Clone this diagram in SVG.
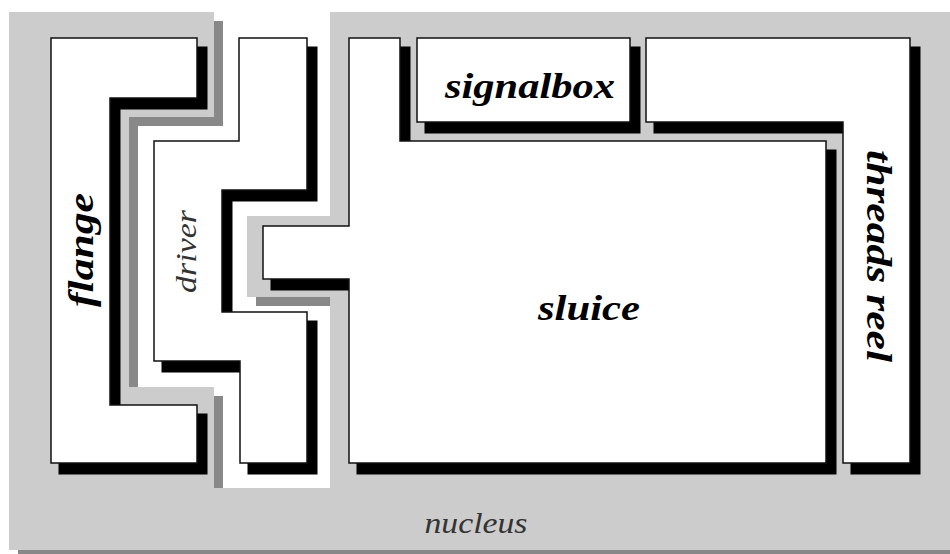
<svg xmlns="http://www.w3.org/2000/svg" width="950" height="554" viewBox="0 0 950 554">
<style>
.shape{fill:#fff;stroke:#111;stroke-width:1.5}
.shadow{fill:#000;stroke:#000;stroke-width:3}
.lbl{font-family:"Liberation Serif","Times New Roman",serif;font-style:italic;font-weight:bold;font-size:36px;fill:#000}
.lbl2{font-family:"Liberation Serif","Times New Roman",serif;font-style:italic;font-weight:normal;font-size:29px;fill:#333}
</style>
<rect width="950" height="554" fill="#fff"/>
<g id="nucleus">
<path d="M9,12 H214 V117 H129 V387 H214 V488 H330 V297 H247 V216 H330 V12 H960 V550 H9 Z" fill="#888" transform="translate(9,9)"/>
<path d="M9,12 H214 V117 H129 V387 H214 V488 H330 V297 H247 V216 H330 V12 H960 V550 H9 Z" fill="#ccc"/>
<text class="lbl2" x="476" y="533" text-anchor="middle" textLength="103" lengthAdjust="spacingAndGlyphs">nucleus</text>
</g>
<g id="flange">
<polygon class="shadow" points="51,38 197,38 197,98 110,98 110,405 197,405 197,463 51,463" transform="translate(9,10)"/>
<polygon class="shape" points="51,38 197,38 197,98 110,98 110,405 197,405 197,463 51,463"/>
<text class="lbl" transform="translate(93,250) rotate(-90)" text-anchor="middle" textLength="114" lengthAdjust="spacingAndGlyphs">flange</text>
</g>
<g id="driver">
<polygon class="shadow" points="239,38 307,38 307,190 222,190 222,312 307,312 307,463 240,463 240,361 154,361 154,141 239,141" transform="translate(9,10)"/>
<polygon class="shape" points="239,38 307,38 307,190 222,190 222,312 307,312 307,463 240,463 240,361 154,361 154,141 239,141"/>
<text class="lbl2" transform="translate(196,251.5) rotate(-90)" text-anchor="middle" font-size="33" fill="#444" textLength="83" lengthAdjust="spacingAndGlyphs">driver</text>
</g>
<g id="sluice">
<polygon class="shadow" points="349,38 400,38 400,141 826,141 826,463 349,463 349,279 263,279 263,226 349,226" transform="translate(9,10)"/>
<polygon class="shape" points="349,38 400,38 400,141 826,141 826,463 349,463 349,279 263,279 263,226 349,226"/>
<text class="lbl" x="589" y="320" text-anchor="middle" textLength="102" lengthAdjust="spacingAndGlyphs">sluice</text>
</g>
<g id="signalbox">
<rect class="shadow" x="417" y="38" width="213" height="84" transform="translate(9,10)"/>
<rect class="shape" x="417" y="38" width="213" height="84"/>
<text class="lbl" x="530" y="98" text-anchor="middle" textLength="170" lengthAdjust="spacingAndGlyphs">signalbox</text>
</g>
<g id="threads_reel">
<polygon class="shadow" points="646,38 910,38 910,463 843,463 843,122 646,122" transform="translate(9,10)"/>
<polygon class="shape" points="646,38 910,38 910,463 843,463 843,122 646,122"/>
<text class="lbl" transform="translate(867,256) rotate(90)" text-anchor="middle" textLength="212" lengthAdjust="spacingAndGlyphs">threads reel</text>
</g>
<g id="connectors"></g>
</svg>
